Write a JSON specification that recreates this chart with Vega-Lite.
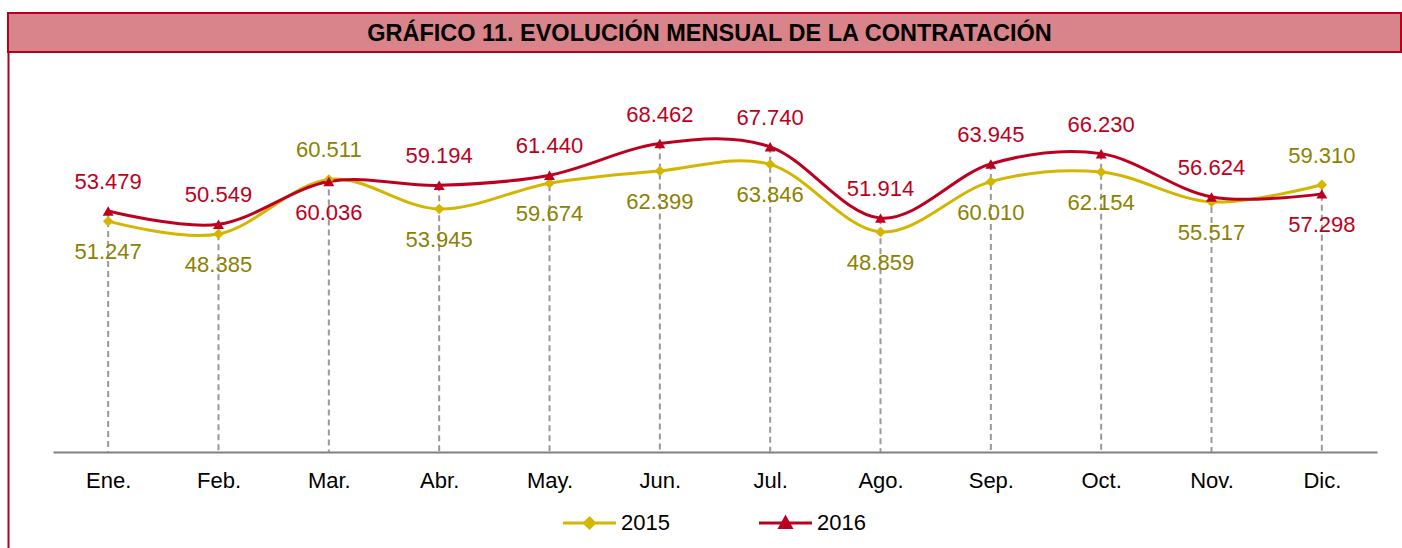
{
  "$schema": "https://vega.github.io/schema/vega-lite/v6.json",
  "padding": {"left": 7, "top": 12, "right": 0, "bottom": 0},
  "background": "white",
  "bounds": "flush",
  "spacing": 0,
  "config": {
    "font": "Liberation Sans",
    "locale": {"number": {"decimal": ",", "thousands": ".", "grouping": [3], "currency": ["", " €"]}}
  },
  "datasets": {
    "contratos": [
      {"mes": "Ene.", "anio": "2015", "valor": 51247},
      {"mes": "Feb.", "anio": "2015", "valor": 48385},
      {"mes": "Mar.", "anio": "2015", "valor": 60511},
      {"mes": "Abr.", "anio": "2015", "valor": 53945},
      {"mes": "May.", "anio": "2015", "valor": 59674},
      {"mes": "Jun.", "anio": "2015", "valor": 62399},
      {"mes": "Jul.", "anio": "2015", "valor": 63846},
      {"mes": "Ago.", "anio": "2015", "valor": 48859},
      {"mes": "Sep.", "anio": "2015", "valor": 60010},
      {"mes": "Oct.", "anio": "2015", "valor": 62154},
      {"mes": "Nov.", "anio": "2015", "valor": 55517},
      {"mes": "Dic.", "anio": "2015", "valor": 59310},
      {"mes": "Ene.", "anio": "2016", "valor": 53479},
      {"mes": "Feb.", "anio": "2016", "valor": 50549},
      {"mes": "Mar.", "anio": "2016", "valor": 60036},
      {"mes": "Abr.", "anio": "2016", "valor": 59194},
      {"mes": "May.", "anio": "2016", "valor": 61440},
      {"mes": "Jun.", "anio": "2016", "valor": 68462},
      {"mes": "Jul.", "anio": "2016", "valor": 67740},
      {"mes": "Ago.", "anio": "2016", "valor": 51914},
      {"mes": "Sep.", "anio": "2016", "valor": 63945},
      {"mes": "Oct.", "anio": "2016", "valor": 66230},
      {"mes": "Nov.", "anio": "2016", "valor": 56624},
      {"mes": "Dic.", "anio": "2016", "valor": 57298}
    ]
  },
  "vconcat": [
    {
      "width": 1393,
      "height": 39,
      "view": {"fill": "#D9838A", "stroke": "#B5001F", "strokeWidth": 2},
      "data": {"values": [{"titulo": "GRÁFICO 11. EVOLUCIÓN MENSUAL DE LA CONTRATACIÓN"}]},
      "mark": {"type": "text", "font": "Liberation Sans", "fontWeight": "bold", "fontSize": 23.5, "color": "#000000", "align": "center", "baseline": "middle", "dx": 5, "dy": 1},
      "encoding": {"text": {"field": "titulo", "type": "nominal"}}
    },
    {
      "width": 1393,
      "height": 496,
      "view": {"stroke": null},
      "data": {"name": "contratos"},
      "encoding": {
        "x": {
          "field": "mes", "type": "ordinal",
          "sort": ["Ene.", "Feb.", "Mar.", "Abr.", "May.", "Jun.", "Jul.", "Ago.", "Sep.", "Oct.", "Nov.", "Dic."],
          "scale": {"type": "point", "range": [45, 1369], "padding": 0.5},
          "axis": {"title": null, "orient": "bottom", "offset": -96, "domainColor": "#808080", "domainWidth": 2, "ticks": false, "tickSize": 0, "labelPadding": 18, "labelFont": "Liberation Sans", "labelFontSize": 22, "labelColor": "#000000", "labelAngle": 0, "grid": false}
        },
        "y": {
          "field": "valor", "type": "quantitative",
          "scale": {"domain": [-21310, 88790], "nice": false, "zero": false},
          "axis": {"title": null, "labels": false, "ticks": false, "grid": false, "domainColor": "#B5001F", "domainWidth": 2}
        }
      },
      "layer": [
        {
          "mark": {"type": "rule", "color": "#999999", "strokeWidth": 2, "strokeDash": [6, 4]},
          "encoding": {
            "y": {
              "aggregate": "max", "field": "valor", "type": "quantitative",
              "scale": {"domain": [-21310, 88790], "nice": false, "zero": false},
              "axis": {"title": null, "labels": false, "ticks": false, "grid": false, "domainColor": "#B5001F", "domainWidth": 2}
            },
            "y2": {"datum": 0}
          }
        },
        {
          "mark": {"type": "line", "interpolate": "cardinal", "strokeWidth": 3},
          "encoding": {
            "color": {
              "field": "anio", "type": "nominal",
              "scale": {"domain": ["2015", "2016"], "range": ["#D4B600", "#BE0020"]},
              "legend": {
                "orient": "none", "legendX": 550, "legendY": 499, "direction": "horizontal",
                "title": null, "padding": 0, "symbolSize": 144, "symbolStrokeWidth": 3,
                "labelFontSize": 22, "labelFont": "Liberation Sans", "labelColor": "#000000",
                "labelOffset": 41, "columnPadding": 83,
                "encode": {
                  "symbols": {
                    "update": {
                      "shape": {"signal": "datum.value === '2015' ? 'M-1,0H7.83M2.58,0L3.42,-0.83L4.25,0L3.42,0.83Z' : 'M-1,0H7.83M3.42,-0.9L4.33,0.75L2.5,0.75Z'"},
                      "fill": {"signal": "datum.value === '2015' ? '#D4B600' : '#BE0020'"},
                      "stroke": {"signal": "datum.value === '2015' ? '#D4B600' : '#BE0020'"},
                      "strokeWidth": {"value": 3},
                      "opacity": {"value": 1}
                    }
                  }
                }
              }
            }
          }
        },
        {
          "mark": {"type": "point", "filled": true, "opacity": 1, "strokeWidth": 1},
          "encoding": {
            "shape": {"condition": {"test": "datum.anio === '2015'", "value": "diamond"}, "value": "triangle-up"},
            "color": {"condition": {"test": "datum.anio === '2015'", "value": "#D4B600"}, "value": "#BE0020"},
            "size": {"condition": {"test": "datum.anio === '2015'", "value": 110}, "value": 120}
          }
        },
        {
          "transform": [
            {"joinaggregate": [{"op": "max", "field": "valor", "as": "maxv"}], "groupby": ["mes"]},
            {"filter": "datum.valor === datum.maxv"}
          ],
          "mark": {"type": "text", "fontSize": 22, "font": "Liberation Sans", "align": "center", "baseline": "alphabetic", "dy": -22},
          "encoding": {
            "text": {"field": "valor", "type": "quantitative", "format": ","},
            "color": {"condition": {"test": "datum.anio === '2015'", "value": "#8C8200"}, "value": "#BE0020"}
          }
        },
        {
          "transform": [
            {"joinaggregate": [{"op": "max", "field": "valor", "as": "maxv"}], "groupby": ["mes"]},
            {"filter": "datum.valor !== datum.maxv"}
          ],
          "mark": {"type": "text", "fontSize": 22, "font": "Liberation Sans", "align": "center", "baseline": "alphabetic", "dy": 38},
          "encoding": {
            "text": {"field": "valor", "type": "quantitative", "format": ","},
            "color": {"condition": {"test": "datum.anio === '2015'", "value": "#8C8200"}, "value": "#BE0020"}
          }
        }
      ]
    }
  ]
}
